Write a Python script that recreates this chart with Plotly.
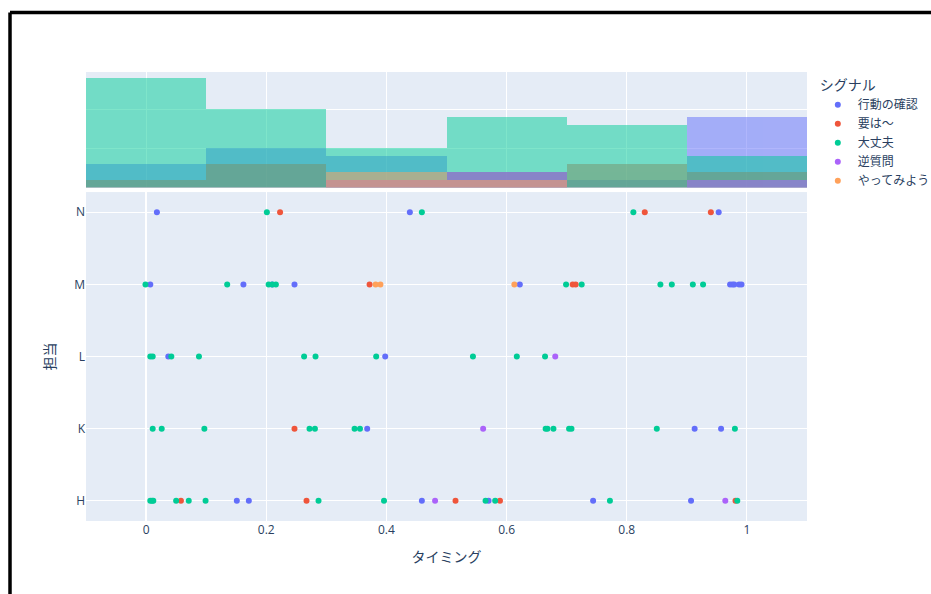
import pandas as pd
import plotly.express as px

# ---- data ----
tanto_order = ["H", "K", "L", "M", "N"]
signal_order = ["行動の確認", "要は〜", "大丈夫", "逆質問", "やってみよう"]

kakunin_t = [0.018, 0.439, 0.953,
             0.007, 0.162, 0.210, 0.247, 0.622, 0.972, 0.976, 0.979, 0.987, 0.991,
             0.037, 0.398,
             0.368, 0.913, 0.957,
             0.151, 0.171, 0.459, 0.570, 0.744, 0.907]
kakunin_p = ["N"] * 3 + ["M"] * 10 + ["L"] * 2 + ["K"] * 3 + ["H"] * 6

youwa_t = [0.223, 0.830, 0.940,
           0.372, 0.710, 0.715,
           0.247,
           0.058, 0.267, 0.515, 0.589, 0.981]
youwa_p = ["N"] * 3 + ["M"] * 3 + ["K"] * 1 + ["H"] * 5

daijoubu_t = [0.201, 0.459, 0.811,
              -0.001, 0.135, 0.204, 0.210, 0.216, 0.699, 0.725, 0.856, 0.875, 0.910, 0.927,
              0.007, 0.011, 0.042, 0.088, 0.263, 0.282, 0.383, 0.544, 0.617, 0.664,
              0.011, 0.026, 0.097, 0.272, 0.281, 0.347, 0.356, 0.665, 0.668, 0.678, 0.704, 0.708, 0.850, 0.980,
              0.007, 0.010, 0.012, 0.050, 0.071, 0.099, 0.287, 0.396, 0.565, 0.581, 0.772, 0.984]
daijoubu_p = ["N"] * 3 + ["M"] * 11 + ["L"] * 10 + ["K"] * 14 + ["H"] * 12

gyaku_t = [0.681, 0.561, 0.481, 0.964]
gyaku_p = ["L", "K", "H", "H"]

yatte_t = [0.382, 0.390, 0.613]
yatte_p = ["M", "M", "M"]

# ---- build table ----
rows = []
for sig, ts, ps in [("行動の確認", kakunin_t, kakunin_p),
                    ("要は〜", youwa_t, youwa_p),
                    ("大丈夫", daijoubu_t, daijoubu_p),
                    ("逆質問", gyaku_t, gyaku_p),
                    ("やってみよう", yatte_t, yatte_p)]:
    for t, p in zip(ts, ps):
        rows.append({"タイミング": t, "担当": p, "シグナル": sig})
df = pd.DataFrame(rows)

fig = px.scatter(df, x="タイミング", y="担当", color="シグナル",
                 marginal_x="histogram",
                 category_orders={"シグナル": signal_order})

for tr in fig.data:
    if tr.type == "histogram":
        tr.xbins = dict(start=-0.1, end=1.1, size=0.2)
        tr.autobinx = False
        tr.opacity = 0.5
    else:
        ya = "yaxis" + tr.yaxis[1:]
        fig.layout[ya].update(categoryorder="array", categoryarray=tanto_order)

fig.update_layout(
    width=931, height=594,
    margin=dict(l=86, r=124, t=72, b=73, autoexpand=False),
    barmode="overlay",
    legend=dict(title_text="シグナル", tracegroupgap=0, x=1.015),
    font=dict(family="Open Sans, Noto Sans CJK JP, sans-serif"),
)
fig.update_xaxes(range=[-0.1, 1.1])

# frame lines (top and left) as in the reference picture
fig.add_shape(type="line", xref="paper", yref="paper",
              x0=-0.1054, x1=1.25, y0=1.1325, y1=1.1325,
              line=dict(color="black", width=3.5), layer="above")
fig.add_shape(type="line", xref="paper", yref="paper",
              x0=-0.1054, x1=-0.1054, y0=-0.2, y1=1.1325,
              line=dict(color="black", width=3.5), layer="above")

fig.write_html(
    "out.html",
    config={"displayModeBar": False},
    post_script="document.body.style.margin='0';"
                "document.documentElement.style.overflow='hidden';"
                "document.body.style.overflow='hidden';",
)
